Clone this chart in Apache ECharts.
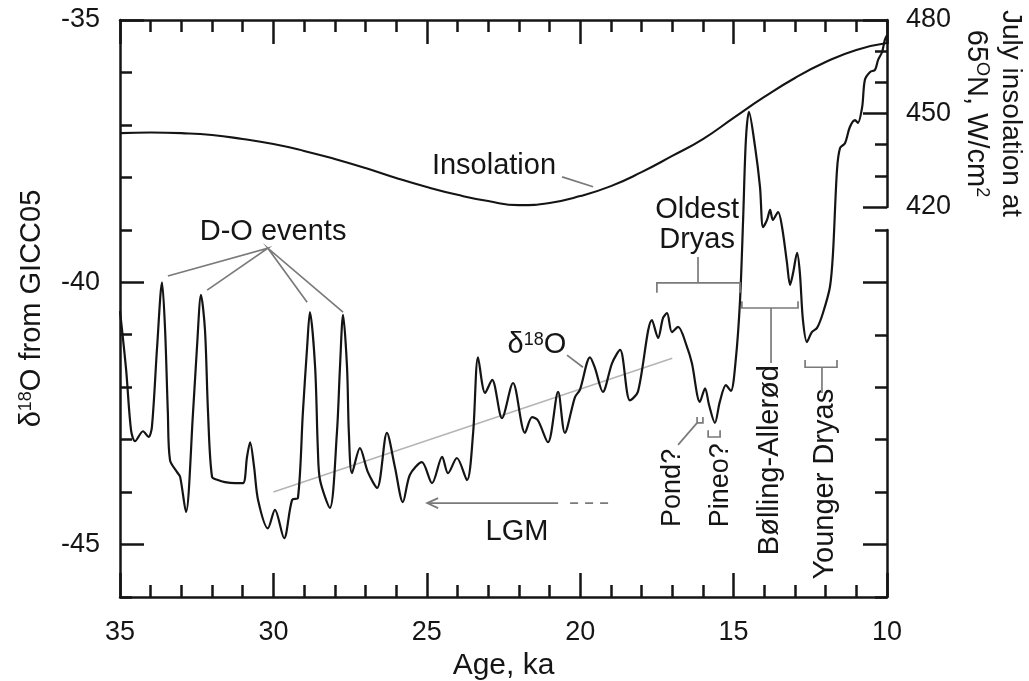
<!DOCTYPE html>
<html>
<head>
<meta charset="utf-8">
<title>GICC05 d18O and July insolation, 35-10 ka</title>
<script src="https://cdn.jsdelivr.net/npm/echarts@6.0.0/dist/echarts.min.js"></script>
<style>
  html, body { margin: 0; padding: 0; background: #fff; }
  #chart { width: 1029px; height: 681px; }
</style>
</head>
<body>
<div id="chart"></div>
<script>
// d18O record (age in ka, permil)
var d18oAge = [35.0, 34.8, 34.64, 34.51, 34.25, 34.07, 33.96, 33.79, 33.63, 33.53, 33.44, 33.37,
  33.14, 33.04, 32.85, 32.62, 32.49, 32.36, 32.23, 32.13, 32.0, 31.81, 31.58, 31.25, 30.99,
  30.86, 30.76, 30.63, 30.5, 30.18, 29.95, 29.65, 29.39, 29.2, 29.04, 28.9, 28.81, 28.64,
  28.55, 28.48, 28.16, 27.93, 27.83, 27.73, 27.6, 27.54, 27.44, 27.18, 26.92, 26.62, 26.3,
  26.04, 25.78, 25.55, 25.16, 24.83, 24.5, 24.31, 24.02, 23.69, 23.49, 23.33, 23.1, 22.87,
  22.55, 22.19, 21.8, 21.57, 21.38, 21.05, 20.72, 20.5, 20.17, 20.01, 19.68, 19.52, 19.26,
  18.96, 18.7, 18.38, 18.12, 17.66, 17.46, 17.3, 17.17, 17.01, 16.81, 16.52, 16.36, 16.1,
  15.93, 15.8, 15.61, 15.45, 15.25, 15.09, 14.93, 14.79, 14.69, 14.6, 14.5, 14.3, 14.14,
  14.04, 13.91, 13.81, 13.72, 13.55, 13.42, 13.26, 13.16, 13.06, 12.93, 12.84, 12.74, 12.61,
  12.45, 12.28, 12.09, 11.86, 11.76, 11.63, 11.53, 11.37, 11.21, 11.04, 10.95, 10.81, 10.72,
  10.55, 10.39, 10.29, 10.16, 10.07, 10.0];
var d18oValue = [-40.55, -41.67, -42.82, -43.03, -42.84, -42.95, -42.76, -41.23, -40.0, -40.91, -42.49, -43.39,
  -43.62, -43.71, -44.38, -42.49, -41.23, -40.24, -40.91, -42.49, -43.71, -43.77, -43.81, -43.83, -43.83,
  -43.33, -43.05, -43.52, -44.15, -44.69, -44.34, -44.88, -44.15, -44.11, -42.49, -41.23, -40.57, -41.62,
  -43.2, -43.77, -44.3, -42.87, -41.62, -40.62, -41.62, -42.87, -43.64, -43.16, -43.62, -43.92, -42.87,
  -43.52, -44.19, -43.67, -43.43, -43.83, -43.33, -43.64, -43.35, -43.77, -42.87, -41.43, -42.11, -41.86,
  -42.59, -41.92, -42.87, -42.57, -42.63, -43.05, -42.09, -42.87, -42.19, -42.05, -41.43, -41.63, -42.09,
  -41.54, -41.29, -42.25, -42.09, -40.72, -41.06, -40.68, -40.59, -40.95, -40.85, -41.23, -41.54, -42.28,
  -42.02, -42.34, -42.68, -42.28, -41.96, -42.07, -41.48, -40.34, -38.81, -37.29, -36.75, -37.42, -38.18,
  -38.95, -38.81, -38.62, -38.81, -38.66, -38.95, -39.63, -40.05, -39.82, -39.44, -39.82, -40.72, -41.14,
  -40.95, -40.87, -40.59, -40.09, -39.44, -37.86, -37.44, -37.35, -37.04, -36.91, -36.96, -36.66, -36.14,
  -35.99, -35.95, -35.76, -35.61, -35.38, -35.29];

// July insolation at 65N
var insolAge = [35, 34, 33, 32, 31, 30, 29, 28, 27, 26, 25, 24, 23, 22, 21, 20, 19, 18, 17, 16, 15, 14, 13, 12, 11, 10];
var insolValue = [443.7, 443.9, 443.7, 443.1, 441.8, 440.2, 438.0, 435.4, 432.5, 429.3, 426.4, 423.9, 421.9,
  420.6, 421.3, 423.5, 426.7, 431.2, 436.4, 441.8, 448.6, 455.3, 461.4, 466.5, 470.4, 472.6];

// grey LGM trend line
var trendAge = [30.0, 17.0];
var trendValue = [-44.0, -41.45];

var ageTicks = [35, 30, 25, 20, 15, 10];
var d18oTicks = [-45, -40, -35];
var d18oLowerTicks = [-45, -40];
var insolTicks = [420, 450, 480];

var FONT = "'Liberation Sans', Arial, Helvetica, sans-serif";
var INK = '#151515';
var GRAY = '#7a7a7a';

var chart = echarts.init(document.getElementById('chart'));

var ageMin = Math.min.apply(null, ageTicks);
var ageMax = Math.max.apply(null, ageTicks);

function line(show) {
  return { show: show, lineStyle: { color: INK, width: 2.5 } };
}
function ticks(len, custom) {
  var t = { show: true, inside: true, length: len, lineStyle: { color: INK, width: 2.5 } };
  if (custom) t.customValues = custom;
  return t;
}
var minor = function (n) {
  return { show: true, splitNumber: n, length: 12, lineStyle: { color: INK, width: 2.5 } };
};
var labelStyle = { fontSize: 27, color: INK, fontFamily: FONT };
var noSplit = { show: false };

function ageAxis(grid, pos, show, withLabels) {
  return {
    gridIndex: grid, type: 'value', position: pos, show: show,
    min: ageMin, max: ageMax, interval: 5, inverse: true,
    axisLine: line(true), axisTick: ticks(24), minorTick: minor(5),
    axisLabel: withLabels ? Object.assign({ margin: 22 }, labelStyle) : { show: false },
    splitLine: noSplit, minorSplitLine: noSplit
  };
}

var bottomAxis = ageAxis(0, 'bottom', true, true);
bottomAxis.name = 'Age, ka';
bottomAxis.nameLocation = 'middle';
bottomAxis.nameGap = 53;
bottomAxis.nameTextStyle = { fontSize: 30, color: INK, fontFamily: FONT };

var option = {
  animation: false,
  backgroundColor: '#fff',
  grid: [
    { left: 120, right: 142, top: 20, bottom: 84, outerBoundsMode: 'none' },
    { left: 120, right: 142, top: 20, height: 187, outerBoundsMode: 'none' },
    { left: 120, right: 142, top: 230, bottom: 84, outerBoundsMode: 'none' }
  ],
  xAxis: [
    bottomAxis,
    ageAxis(0, 'top', true, false),
    ageAxis(1, 'bottom', false, false),
    ageAxis(2, 'bottom', false, false)
  ],
  yAxis: [
    {
      gridIndex: 0, type: 'value', position: 'left', min: -46, max: -35, interval: 1,
      axisLine: line(true), axisTick: ticks(12),
      axisLabel: Object.assign({
        margin: 20,
        formatter: function (v) { return d18oTicks.indexOf(v) >= 0 ? String(v) : ''; }
      }, labelStyle),
      splitLine: noSplit,
      name: '{a|δ}{s|18}{a|O from GICC05}',
      nameLocation: 'middle', nameGap: 74,
      nameTextStyle: {
        fontSize: 29, color: INK, fontFamily: FONT,
        rich: {
          a: { fontSize: 29, color: INK, fontFamily: FONT },
          s: { fontSize: 18, color: INK, fontFamily: FONT, verticalAlign: 'top' }
        }
      }
    },
    {
      gridIndex: 0, type: 'value', position: 'left', min: -46, max: -35,
      axisLine: line(false), axisTick: ticks(24, d18oTicks), axisLabel: { show: false },
      splitLine: noSplit
    },
    {
      gridIndex: 1, type: 'value', position: 'right',
      min: Math.min.apply(null, insolTicks), max: Math.max.apply(null, insolTicks), interval: 30,
      axisLine: line(true), axisTick: ticks(24), minorTick: minor(3),
      axisLabel: Object.assign({ margin: 19 }, labelStyle),
      splitLine: noSplit, minorSplitLine: noSplit
    },
    {
      gridIndex: 2, type: 'value', position: 'right', min: -46, max: -39, interval: 1,
      axisLine: line(true), axisTick: ticks(12), axisLabel: { show: false }, splitLine: noSplit
    },
    {
      gridIndex: 2, type: 'value', position: 'right', min: -46, max: -39,
      axisLine: line(false), axisTick: ticks(24, d18oLowerTicks), axisLabel: { show: false },
      splitLine: noSplit
    }
  ],
  series: [
    {
      name: 'd18O', type: 'line', xAxisIndex: 0, yAxisIndex: 0,
      data: d18oAge.map(function (a, i) { return [a, d18oValue[i]]; }),
      showSymbol: false, smooth: 0.3, z: 4,
      lineStyle: { color: '#141414', width: 2.2 }
    },
    {
      name: 'trend', type: 'line', xAxisIndex: 0, yAxisIndex: 0,
      data: trendAge.map(function (a, i) { return [a, trendValue[i]]; }),
      showSymbol: false, z: 2,
      lineStyle: { color: '#b5b5b5', width: 1.6 }
    },
    {
      name: 'Insolation', type: 'line', xAxisIndex: 2, yAxisIndex: 2,
      data: insolAge.map(function (a, i) { return [a, insolValue[i]]; }),
      showSymbol: false, smooth: true, z: 3,
      lineStyle: { color: '#141414', width: 2.1 }
    }
  ]
};

chart.setOption(option);

// annotations, placed in data coordinates of the d18O panel
function P(age, v) { return chart.convertToPixel({ seriesIndex: 0 }, [age, v]); }

function seg(points, dash) {
  return {
    type: 'polyline', silent: true, z: 10,
    shape: { points: points.map(function (p) { return P(p[0], p[1]); }) },
    style: { stroke: GRAY, lineWidth: 1.7, fill: null, lineDash: dash || null }
  };
}
function txt(text, xy, opts) {
  opts = opts || {};
  var size = opts.size || 29;
  return {
    type: 'text', silent: true, z: 11,
    x: xy[0], y: xy[1], rotation: opts.rotation || 0,
    style: {
      text: text, fontSize: size, fontFamily: FONT, fill: INK,
      align: 'center', verticalAlign: 'middle',
      textAlign: 'center', textVerticalAlign: 'middle',
      lineHeight: opts.lineHeight,
      rich: opts.rich
    }
  };
}
var sup = function (size, big) {
  return {
    a: { fontSize: big, fontFamily: FONT, fill: INK, color: INK },
    s: { fontSize: size, fontFamily: FONT, fill: INK, color: INK, verticalAlign: 'top' }
  };
};

var tip = P(24.99, -44.21);
var plotRight = P(10, -35)[0];
var insolMid = chart.convertToPixel({ seriesIndex: 2 }, [10, 450])[1];

var graphics = [
  // D-O events
  txt('D-O events', P(30.01, -39.05)),
  seg([[33.44, -39.88], [30.18, -39.35], [32.16, -40.15]]),
  seg([[28.9, -40.38], [30.18, -39.35], [27.73, -40.57]]),
  // insolation label
  txt('Insolation', P(22.81, -37.78)),
  seg([[20.59, -37.99], [19.58, -38.18]]),
  // d18O label
  txt('{a|δ}{s|18}{a|O}', P(21.41, -41.2), { rich: sup(18, 29) }),
  seg([[20.43, -41.39], [19.91, -41.62]]),
  // Oldest Dryas
  txt('Oldest\nDryas', P(16.19, -38.91), { lineHeight: 30 }),
  seg([[17.5, -40.2], [17.5, -40.01], [14.79, -40.01], [14.79, -40.2]]),
  seg([[16.16, -39.52], [16.16, -40.01]]),
  // Bolling-Allerod
  seg([[14.73, -40.36], [14.73, -40.49], [12.9, -40.49], [12.9, -40.36]]),
  seg([[13.78, -40.49], [13.78, -41.54]]),
  txt('Bølling-Allerød', P(13.81, -43.39), { rotation: Math.PI / 2 }),
  // Younger Dryas
  seg([[12.67, -41.48], [12.67, -41.62], [11.63, -41.62], [11.63, -41.48]]),
  seg([[12.12, -41.62], [12.12, -42.11]]),
  txt('Younger Dryas', P(12.02, -43.85), { rotation: Math.PI / 2 }),
  // Pond? / Pineo?
  seg([[16.19, -42.57], [16.19, -42.68], [16.0, -42.68], [16.0, -42.57]]),
  seg([[16.81, -43.1], [16.19, -42.68]]),
  txt('Pond?', P(16.98, -43.92), { rotation: Math.PI / 2, size: 27 }),
  seg([[15.83, -42.82], [15.83, -42.95], [15.44, -42.95], [15.44, -42.82]]),
  txt('Pineo?', P(15.44, -43.87), { rotation: Math.PI / 2, size: 27 }),
  // LGM arrow
  seg([[24.99, -44.21], [20.72, -44.21]]),
  seg([[20.33, -44.21], [18.96, -44.21]], [8, 7]),
  {
    type: 'polyline', silent: true, z: 10,
    shape: { points: [[tip[0] + 11, tip[1] - 5], tip, [tip[0] + 11, tip[1] + 5]] },
    style: { stroke: GRAY, lineWidth: 1.7, fill: null }
  },
  txt('LGM', P(22.06, -44.76)),
  // right axis title
  txt('July insolation at', [plotRight + 124, insolMid], { rotation: -Math.PI / 2, size: 28 }),
  txt('65{s|O}N, W/cm{s|2}', [plotRight + 89, insolMid], { rotation: -Math.PI / 2, rich: sup(18, 28) })
];

chart.setOption({ graphic: graphics });
</script>
</body>
</html>
